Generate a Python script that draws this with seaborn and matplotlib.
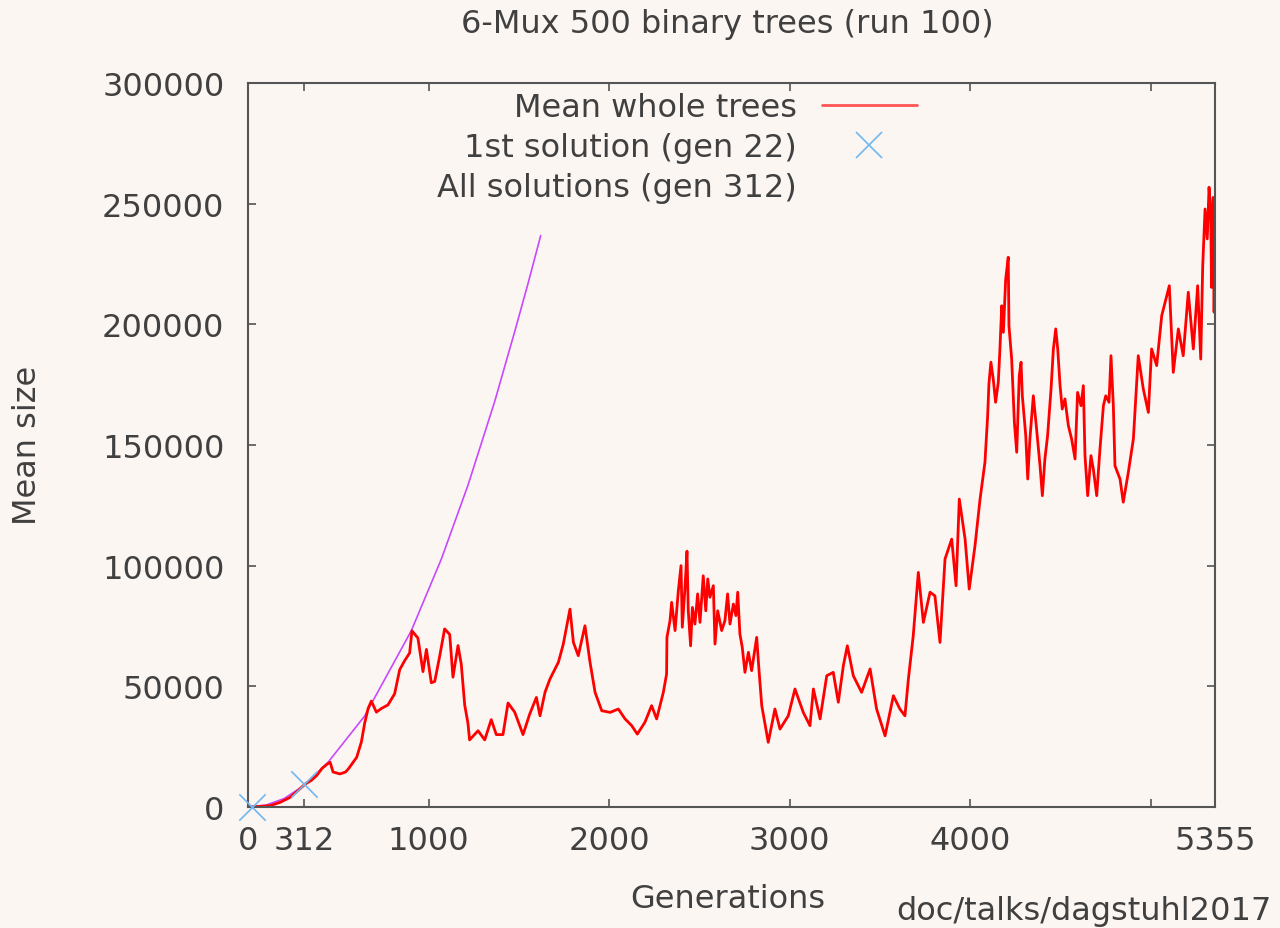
import matplotlib
matplotlib.use("Agg")
import matplotlib.pyplot as plt
from matplotlib.lines import Line2D
import seaborn as sns
import pandas as pd

# ---- data: (generation, mean size) ----
mean_points = [
    (0, 0), (22, 0), (60, 200), (122, 540), (180, 2000), (233, 4000), (280, 7000), (316, 9500),
    (350, 11000), (380, 13000), (410, 16000), (439, 17800), (455, 18500), (471, 14500),
    (509, 13700), (540, 14500), (555, 15700), (602, 20600), (628, 27000), (646, 34700),
    (665, 40800), (683, 43900), (711, 39300), (738, 40800), (775, 42300), (812, 46900),
    (840, 56900), (868, 60700), (895, 63800), (908, 73000), (941, 70000), (969, 56100),
    (988, 65300), (1015, 51500), (1034, 52000), (1061, 62300), (1089, 73800), (1117, 71500),
    (1135, 53800), (1163, 66900), (1181, 59200), (1200, 42300), (1218, 34700), (1227, 27800),
    (1274, 31600), (1311, 27800), (1347, 36200), (1375, 30000), (1412, 30000), (1440, 43100),
    (1477, 39300), (1523, 30000), (1560, 38500), (1597, 45400), (1617, 37800), (1645, 47600),
    (1672, 53000), (1719, 60000), (1746, 67500), (1783, 82000), (1802, 68200), (1829, 62700),
    (1866, 75100), (1894, 60000), (1922, 47500), (1959, 39900), (2005, 39200), (2051, 40600),
    (2088, 36500), (2125, 33700), (2156, 30200), (2198, 35100), (2235, 42000), (2263, 36500),
    (2300, 47500), (2318, 55100), (2320, 70300), (2337, 77200), (2346, 84800), (2365, 73100),
    (2374, 81300), (2383, 89600), (2398, 100000), (2405, 74500), (2420, 91000), (2431, 106000),
    (2438, 81300), (2451, 66800), (2461, 82700), (2475, 75800), (2490, 88300), (2503, 76500),
    (2521, 95800), (2535, 81300), (2546, 94500), (2558, 86900), (2577, 91700), (2586, 67500),
    (2601, 81300), (2623, 73100), (2641, 77200), (2656, 88300), (2669, 75800), (2688, 84100),
    (2702, 79300), (2712, 89000), (2724, 71700), (2737, 66200), (2752, 55800), (2771, 64100),
    (2789, 56500), (2817, 70300), (2830, 56500), (2845, 42000), (2881, 26800), (2918, 40600),
    (2946, 32300), (2992, 37800), (3029, 48900), (3075, 39200), (3112, 33700), (3131, 48900),
    (3168, 36500), (3205, 54400), (3241, 55800), (3269, 43400), (3297, 58600), (3319, 66800),
    (3352, 54400), (3398, 47500), (3445, 57200), (3481, 40600), (3528, 29500), (3574, 46100),
    (3610, 40600), (3638, 37800), (3657, 53000), (3684, 71000), (3712, 97200), (3740, 76500),
    (3777, 89000), (3804, 87500), (3832, 68200), (3860, 102800), (3897, 111000), (3921, 91700),
    (3939, 127600), (3971, 111000), (3994, 90300), (4026, 108300), (4054, 127600),
    (4081, 142800), (4096, 162100), (4103, 175300), (4114, 184300), (4127, 177300),
    (4140, 167700), (4155, 176000), (4164, 189800), (4174, 207700), (4183, 196700),
    (4196, 218800), (4210, 227800), (4214, 199400), (4229, 185600), (4244, 159400),
    (4257, 147000), (4271, 178700), (4281, 184300), (4288, 170400), (4307, 153900),
    (4318, 135900), (4330, 152500), (4349, 170400), (4367, 156600), (4386, 141400),
    (4399, 129000), (4413, 144200), (4428, 153900), (4447, 173200), (4460, 189800),
    (4473, 198100), (4484, 189800), (4497, 174600), (4509, 164900), (4524, 169100),
    (4543, 158000), (4561, 152500), (4580, 144200), (4594, 171800), (4613, 166300),
    (4626, 174600), (4635, 145600), (4650, 129000), (4668, 145600), (4681, 140100),
    (4700, 129000), (4718, 148300), (4737, 166300), (4750, 170400), (4768, 167700),
    (4779, 187000), (4792, 166300), (4801, 141400), (4829, 135900), (4847, 126300),
    (4875, 138700), (4903, 152500), (4930, 187000), (4958, 173200), (4986, 163500),
    (5004, 189800), (5032, 182900), (5060, 203600), (5102, 216000), (5124, 180100),
    (5152, 198100), (5179, 187000), (5207, 213300), (5235, 189800), (5259, 216000),
    (5276, 185600), (5287, 224300), (5300, 247800), (5312, 235400), (5322, 256800),
    (5331, 246400), (5336, 215300), (5345, 252600), (5350, 205000), (5355, 240000),
]
mean_gen = [g for g, _ in mean_points]
mean_size = [v for _, v in mean_points]

curve_gen = [0, 100, 200, 312, 443, 646, 904, 1071, 1218, 1366, 1477, 1551, 1621]
curve_size = [0, 800, 3500, 9000, 18500, 37700, 73000, 102800, 133300, 168000, 197000, 217000, 236800]

first_gen, first_size = [22], [0]
all_gen, all_size = [312], [9500]

xtick_vals = [0, 312, 1000, 2000, 3000, 4000, 5000, 5355]
xtick_labels = ["0", "312", "1000", "2000", "3000", "4000", "", "5355"]
ytick_vals = [0, 50000, 100000, 150000, 200000, 250000, 300000]

title = "6-Mux 500 binary trees (run 100)"
legend_labels = ["Mean whole trees", "1st solution (gen 22)", "All solutions (gen 312)"]

# ---- style ----
BG = "#fcf6f3"
TXT = "#404040"
AXC = "#555555"
RED = "#ff0000"
PURPLE = "#c848ff"
BLUE = "#70b8f0"

sns.set_theme(style="white")
plt.rcParams["font.family"] = ["DejaVu Sans"]
FS = 23

fig = plt.figure(figsize=(12.8, 9.29), dpi=100, facecolor=BG)
ax = fig.add_axes([248 / 1280, 1 - 808 / 929, (1215 - 248) / 1280, (808 - 84) / 929])
ax.set_facecolor(BG)

df_mean = pd.DataFrame({"gen": mean_gen, "size": mean_size})
df_curve = pd.DataFrame({"gen": curve_gen, "size": curve_size})

sns.lineplot(data=df_curve, x="gen", y="size", ax=ax, color=PURPLE, lw=1.2,
             estimator=None, sort=False)
sns.lineplot(data=df_mean, x="gen", y="size", ax=ax, color=RED, lw=2.0,
             estimator=None, sort=False)
sns.scatterplot(x=first_gen, y=first_size, ax=ax, marker="x", s=19 ** 2, color=BLUE,
                linewidth=1.2, zorder=5, clip_on=False)
sns.scatterplot(x=all_gen, y=all_size, ax=ax, marker="x", s=19 ** 2, color=BLUE,
                linewidth=1.2, zorder=5, clip_on=False)

ax.set_xlim(0, 5355)
ax.set_ylim(0, 300000)
ax.set_xticks(xtick_vals)
ax.set_xticklabels(xtick_labels)
ax.set_yticks(ytick_vals)
ax.set_yticklabels([str(v) for v in ytick_vals])

for s in ax.spines.values():
    s.set_visible(True)
    s.set_color(AXC)
    s.set_linewidth(1.5)

ax.tick_params(axis="both", which="major", direction="in", length=6, width=1.2, color=AXC,
               labelsize=FS, labelcolor=TXT, top=True, right=True, bottom=True, left=True)
ax.tick_params(axis="x", pad=13)
ax.tick_params(axis="y", pad=17)

ax.set_xlabel("")
ax.set_ylabel("")
fig.text(727 / 1280, 1 - 25 / 929, title, ha="center", va="center", fontsize=FS, color=TXT)
fig.text(728 / 1280, 1 - 900 / 929, "Generations", ha="center", va="center", fontsize=FS, color=TXT)
fig.text(28 / 1280, 1 - 445 / 929, "Mean size", ha="center", va="center", rotation=90,
         fontsize=FS, color=TXT)
fig.text(1272 / 1280, 1 - 912 / 929, "doc/talks/dagstuhl2017", ha="right", va="center",
         fontsize=FS, color=TXT)

handles = [
    Line2D([], [], color="#ff5555", lw=2.0),
    Line2D([], [], color=BLUE, lw=0, marker="x", markersize=19, markeredgewidth=1.2),
    Line2D([], [], lw=0, marker=None),
]
leg = ax.legend(handles, legend_labels, loc="upper right",
                bbox_to_anchor=(917 / 1280, 1 - 93 / 929), bbox_transform=fig.transFigure,
                frameon=False, markerfirst=False, fontsize=FS, handlelength=2.98,
                handletextpad=0.78, labelspacing=0.28, borderpad=0, borderaxespad=0)
for t in leg.get_texts():
    t.set_color(TXT)

fig.savefig("out.png", dpi=100, facecolor=BG)
